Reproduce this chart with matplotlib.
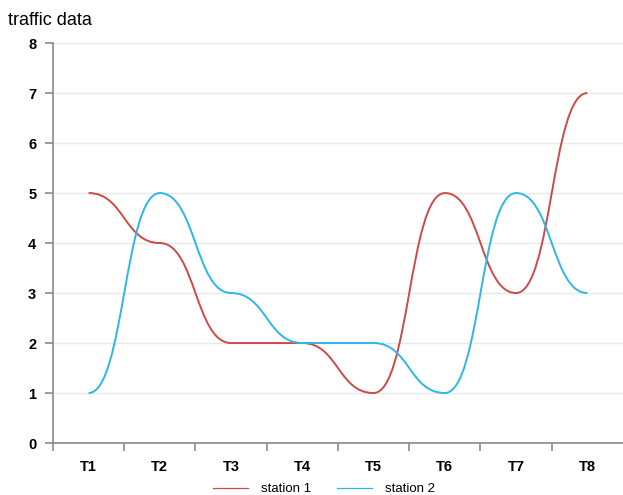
import numpy as np
import matplotlib.pyplot as plt
from matplotlib.path import Path
from matplotlib.patches import PathPatch
from matplotlib.lines import Line2D

categories = ['T1', 'T2', 'T3', 'T4', 'T5', 'T6', 'T7', 'T8']
station1 = [5, 4, 2, 2, 1, 5, 3, 7]
station2 = [1, 5, 3, 2, 2, 1, 5, 3]

RED = '#cc4a48'
CYAN = '#2db6e8'

plt.rcParams['font.family'] = ['Liberation Sans', 'DejaVu Sans']


def bump_path(ys):
    # cubic segments with horizontal tangents at every point
    verts = [(0, ys[0])]
    codes = [Path.MOVETO]
    for i in range(1, len(ys)):
        xm = i - 0.5
        verts += [(xm, ys[i - 1]), (xm, ys[i]), (i, ys[i])]
        codes += [Path.CURVE4] * 3
    return Path(verts, codes)


fig = plt.figure(figsize=(6.23, 4.95), dpi=100)
ax = fig.add_axes([0.085, 0.105, 0.915, 0.808])

for ys, col in [(station1, RED), (station2, CYAN)]:
    ax.add_patch(PathPatch(bump_path(ys), facecolor='none', edgecolor=col,
                           lw=1.4, zorder=3))

ax.set_xlim(-0.5, len(categories) - 0.5)
ax.set_ylim(0, 8)
ax.set_yticks(range(0, 9))
ax.set_xticks(np.arange(len(categories)))
ax.set_xticklabels(categories)
ax.set_xticks(np.arange(len(categories)) - 0.5, minor=True)

ax.grid(axis='y', color='#e8e8e8', lw=1)
ax.set_axisbelow(True)
for s in ['top', 'right']:
    ax.spines[s].set_visible(False)
for s in ['left', 'bottom']:
    ax.spines[s].set_color('#8a8a8a')
    ax.spines[s].set_linewidth(1.2)

ax.tick_params(axis='x', which='major', length=0, pad=12, labelsize=10.5)
ax.tick_params(axis='x', which='minor', length=6, color='#8a8a8a', width=1.2)
ax.tick_params(axis='y', length=6, color='#8a8a8a', width=1.2, pad=6, labelsize=10.5)
for lab in ax.get_xticklabels() + ax.get_yticklabels():
    lab.set_fontweight('bold')

fig.text(0.013, 0.958, 'traffic data', fontsize=13, ha='left', va='center')

handles = [Line2D([], [], color=RED, lw=0.9), Line2D([], [], color=CYAN, lw=0.9)]
fig.legend(handles, ['station 1', 'station 2'], loc='lower center',
           bbox_to_anchor=(0.52, -0.025), ncol=2, frameon=False,
           handlelength=2.7, handletextpad=1.0, columnspacing=1.9, fontsize=9.5)

fig.savefig('out.png', dpi=100)
